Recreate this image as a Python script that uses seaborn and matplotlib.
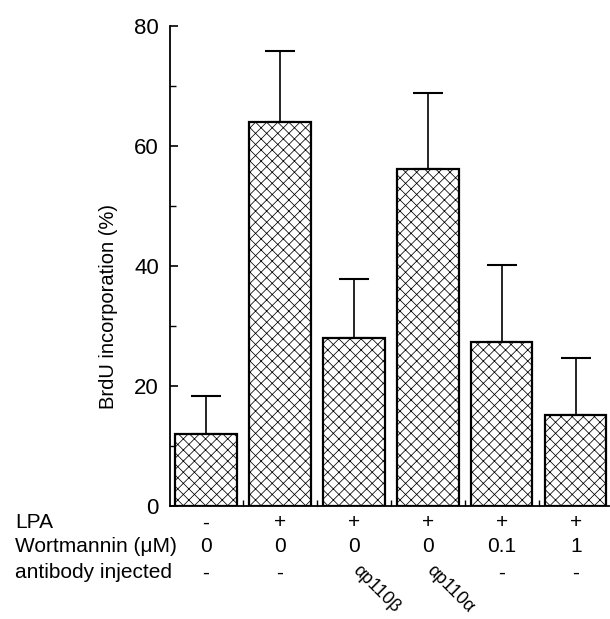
import matplotlib
matplotlib.use('Agg')
import numpy as np
import pandas as pd
import seaborn as sns
import matplotlib.pyplot as plt
from matplotlib.ticker import MultipleLocator, FixedLocator

sns.set_style('ticks')
plt.rcParams['font.family'] = ['Liberation Sans', 'DejaVu Sans']
plt.rcParams['text.color'] = 'black'
plt.rcParams['axes.labelcolor'] = 'black'
plt.rcParams['xtick.color'] = 'black'
plt.rcParams['ytick.color'] = 'black'
plt.rcParams['axes.edgecolor'] = 'black'
plt.rcParams['hatch.linewidth'] = 0.55
plt.rcParams['hatch.color'] = '#444444'

# values
conditions = ['c1', 'c2', 'c3', 'c4', 'c5', 'c6']
brdu = [12.0, 64.0, 28.0, 56.2, 27.3, 15.2]
brdu_err = [6.3, 11.8, 9.8, 12.7, 12.9, 9.5]

lpa = ['-', '+', '+', '+', '+', '+']
wortmannin = ['0', '0', '0', '0', '0.1', '1']
antibody = ['-', '-', 'αp110β', 'αp110α', '-', '-']
row_names = ['LPA', 'Wortmannin (μM)', 'antibody injected']

df = pd.DataFrame({'cond': conditions, 'brdu': brdu, 'err': brdu_err})

fig = plt.figure(figsize=(6.1, 6.19), dpi=100)
ax = fig.add_axes([170 / 610, 113 / 619, 439 / 610, 480 / 619])

sns.barplot(data=df, x='cond', y='brdu', order=conditions, color='white',
            edgecolor='black', linewidth=1.6, width=0.83, hatch='xxx',
            errorbar=None, ax=ax, zorder=3)
xpos = np.arange(len(conditions))
ax.errorbar(xpos, df['brdu'], yerr=[np.zeros(len(xpos)), df['err']], fmt='none',
            ecolor='black', elinewidth=1.2, capsize=11, capthick=1.5, zorder=2)

ax.set_xlim(-0.487, 5.45)
ax.set_ylim(0, 80)
sns.despine(ax=ax)
ax.spines['left'].set_linewidth(1.3)
ax.spines['bottom'].set_linewidth(1.3)

ax.yaxis.set_major_locator(MultipleLocator(20))
ax.yaxis.set_minor_locator(MultipleLocator(10))
ax.tick_params(axis='y', which='major', direction='in', length=6, width=1.2,
               labelsize=16, pad=8)
ax.tick_params(axis='y', which='minor', direction='in', length=4, width=1.0)
ax.xaxis.set_major_locator(FixedLocator(xpos))
ax.xaxis.set_minor_locator(FixedLocator(xpos[:-1] + 0.5))
ax.tick_params(axis='x', which='major', length=0, labelbottom=False)
ax.tick_params(axis='x', which='minor', direction='in', length=4, width=1.0)
ax.set_xlabel('')
ax.set_ylabel('BrdU incorporation (%)', fontsize=14.5)
ax.yaxis.set_label_coords(-0.118, 0.415)

# condition table under the bars
trans = ax.get_xaxis_transform()
row_y = [-0.0354, -0.0854, -0.1396]
for i in range(len(conditions)):
    ax.text(i, row_y[0], lpa[i], transform=trans, ha='center', va='center', fontsize=15)
    ax.text(i, row_y[1], wortmannin[i], transform=trans, ha='center', va='center', fontsize=15)
    if antibody[i] == '-':
        ax.text(i, row_y[2], antibody[i], transform=trans, ha='center', va='center', fontsize=15)
    else:
        ax.text(i + 0.02, row_y[2] + 0.01, antibody[i], transform=trans, ha='left', va='center',
                rotation=-45, rotation_mode='anchor', fontsize=13)

fig_y = [(619 - 523) / 619, (619 - 547) / 619, (619 - 573) / 619]
for name, yy in zip(row_names, fig_y):
    fig.text(15 / 610, yy, name, ha='left', va='center', fontsize=15)

fig.savefig('out.png', dpi=100)
